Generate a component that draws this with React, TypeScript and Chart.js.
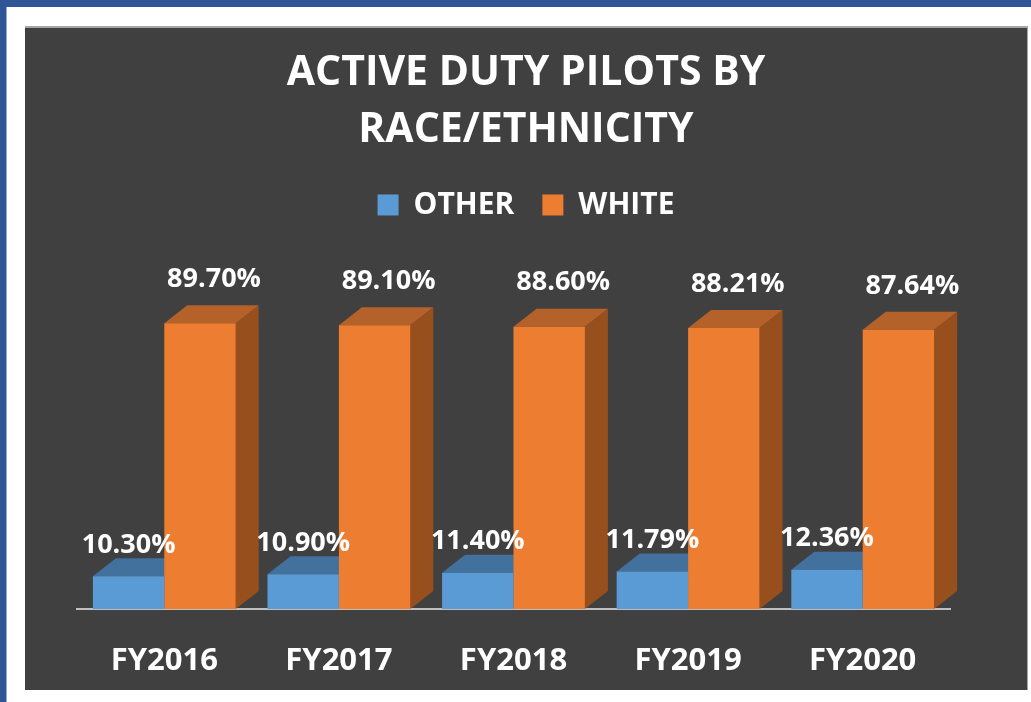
import React, { useEffect, useRef } from "react";
import { Chart, registerables } from "chart.js";

Chart.register(...registerables);

const categories = ["FY2016", "FY2017", "FY2018", "FY2019", "FY2020"];
const otherValues = [10.3, 10.9, 11.4, 11.79, 12.36];
const whiteValues = [89.7, 89.1, 88.6, 88.21, 87.64];
const seriesNames = ["OTHER", "WHITE"];
const titleLines = ["ACTIVE DUTY PILOTS BY", "RACE/ETHNICITY"];

const FONT = "'Open Sans', 'DejaVu Sans', sans-serif";
const DEPTH_X = 23;
const DEPTH_Y = 18;
const frontColors = ["#5B9BD5", "#ED7D31"];
const faceColors = [
  { top: "#41719C", side: "#3A6690" },
  { top: "#B4612A", side: "#984F1E" },
];
const labelOffsets = [
  { dx: 0, dy: -31 },
  { dx: 14, dy: -44 },
];

const bar3d = {
  id: "bar3d",
  beforeDatasetsDraw(chart: any) {
    const ctx = chart.ctx;
    chart.data.datasets.forEach((_ds: any, i: number) => {
      const meta = chart.getDatasetMeta(i);
      meta.data.forEach((el: any) => {
        const { x, y, base, width } = el.getProps(["x", "y", "base", "width"], true);
        const l = x - width / 2;
        const r = x + width / 2;
        ctx.save();
        ctx.fillStyle = faceColors[i].side;
        ctx.beginPath();
        ctx.moveTo(r, y);
        ctx.lineTo(r + DEPTH_X, y - DEPTH_Y);
        ctx.lineTo(r + DEPTH_X, base - DEPTH_Y);
        ctx.lineTo(r, base);
        ctx.closePath();
        ctx.fill();
        ctx.fillStyle = faceColors[i].top;
        ctx.beginPath();
        ctx.moveTo(l, y);
        ctx.lineTo(r, y);
        ctx.lineTo(r + DEPTH_X, y - DEPTH_Y);
        ctx.lineTo(l + DEPTH_X, y - DEPTH_Y);
        ctx.closePath();
        ctx.fill();
        ctx.restore();
      });
    });
  },
  afterDatasetsDraw(chart: any) {
    const ctx = chart.ctx;
    ctx.save();
    ctx.fillStyle = "#FFFFFF";
    ctx.font = `bold 27px ${FONT}`;
    ctx.textAlign = "center";
    ctx.textBaseline = "middle";
    chart.data.datasets.forEach((ds: any, i: number) => {
      const meta = chart.getDatasetMeta(i);
      meta.data.forEach((el: any, j: number) => {
        const { x, y } = el.getProps(["x", "y"], true);
        const v = ds.data[j] as number;
        ctx.fillText(`${v.toFixed(2)}%`, x + labelOffsets[i].dx, y + labelOffsets[i].dy);
      });
    });
    ctx.restore();
  },
};

export default function App() {
  const ref = useRef<HTMLCanvasElement | null>(null);
  useEffect(() => {
    if (!ref.current) return;
    const chart = new Chart(ref.current, {
      type: "bar",
      data: {
        labels: categories,
        datasets: [
          { label: seriesNames[0], data: otherValues, backgroundColor: frontColors[0], borderWidth: 0, yAxisID: "y" },
          { label: seriesNames[1], data: whiteValues, backgroundColor: frontColors[1], borderWidth: 0, yAxisID: "y" },
        ],
      },
      options: {
        responsive: false,
        animation: false,
        events: [],
        layout: { padding: { left: 0, right: 0, top: 0, bottom: 0 } },
        datasets: { bar: { categoryPercentage: 0.818, barPercentage: 1.0 } },
        scales: {
          x: {
            grid: { display: false, drawTicks: false },
            border: { display: true, color: "#BFBFBF", width: 2 },
            ticks: { color: "#FFFFFF", font: { family: FONT, size: 31, weight: "bold" }, padding: 34 },
            afterFit: (s: any) => { s.height = 81; },
          },
          y: {
            position: "left",
            min: 0,
            max: 119,
            display: true,
            grid: { display: false },
            border: { display: false },
            ticks: { display: false },
            afterFit: (s: any) => { s.width = 52; },
          },
          y2: {
            position: "right",
            min: 0,
            max: 1,
            display: true,
            grid: { display: false },
            border: { display: false },
            ticks: { display: false },
            afterFit: (s: any) => { s.width = 77; },
          },
        },
        plugins: {
          title: {
            display: true,
            text: titleLines,
            color: "#FFFFFF",
            font: { family: FONT, size: 41, weight: "bold", lineHeight: 1.39 },
            padding: { top: 17, bottom: 3 },
          },
          legend: {
            display: true,
            position: "top",
            labels: {
              color: "#FFFFFF",
              font: { family: FONT, size: 30, weight: "bold" },
              boxWidth: 21,
              boxHeight: 21,
              padding: 28,
            },
          },
          tooltip: { enabled: false },
        },
      } as any,
      plugins: [bar3d],
    });
    return () => chart.destroy();
  }, []);

  return (
    <div style={{ position: "fixed", left: 0, top: 0, width: 1031, height: 702, background: "#FFFFFF", overflow: "hidden" }}>
      <div style={{ position: "absolute", left: 0, top: 0, width: 1031, height: 7, background: "#2F5597" }} />
      <div style={{ position: "absolute", left: 0, top: 0, width: 6, height: 702, background: "#2F5597" }} />
      <div style={{ position: "absolute", left: 6, top: 7, width: 1, height: 695, background: "#8FAADC" }} />
      <div
        style={{
          position: "absolute",
          left: 25,
          top: 26,
          width: 1003,
          height: 664,
          background: "#404040",
          borderTop: "2px solid #A6A6A6",
          borderRight: "1px solid #A6A6A6",
          boxSizing: "border-box",
        }}
      >
        <canvas ref={ref} width={1002} height={662} style={{ display: "block" }} />
      </div>
    </div>
  );
}
